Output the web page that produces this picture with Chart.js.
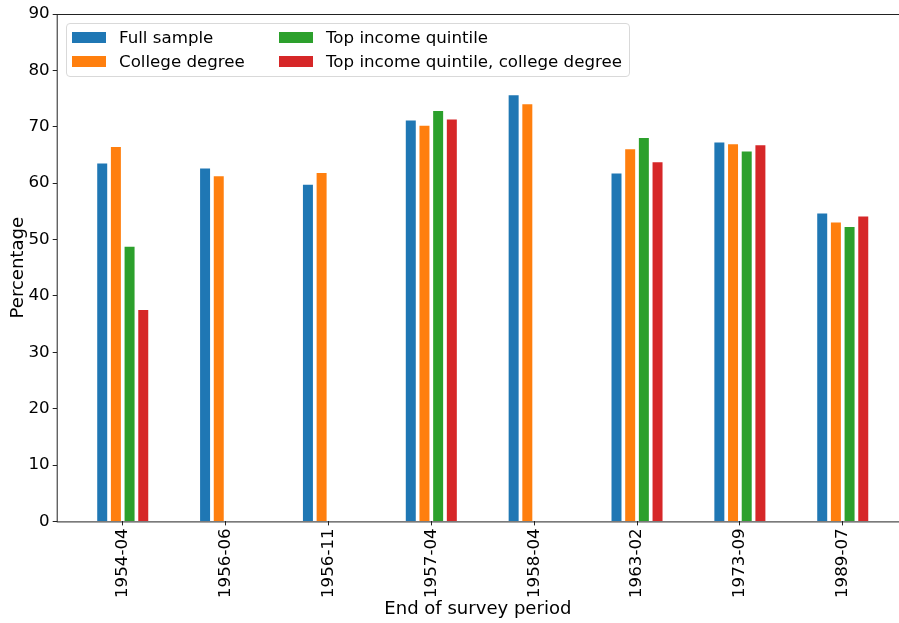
<!DOCTYPE html>
<html>
<head>
<meta charset="utf-8">
<script src="https://cdn.jsdelivr.net/npm/chart.js@4.4.1/dist/chart.umd.min.js"></script>
<style>
  body { margin: 0; background: #fff; }
  #wrap { position: relative; width: 899px; height: 623px; }
  #legend {
    position: absolute; left: 66px; top: 23px; width: 562px; height: 52px;
    border: 1px solid #d9d9d9; border-radius: 4px; background: rgba(255,255,255,0.8);
    font-family: "DejaVu Sans", sans-serif; font-size: 16.67px; color: #000;
  }
  .item { position: absolute; display: flex; align-items: center; height: 20px; white-space: nowrap; }
  .patch { width: 34px; height: 11px; margin-right: 13px; }
</style>
</head>
<body>
<div id="wrap">
  <canvas id="myChart" width="899" height="623"></canvas>
  <div id="legend"></div>
</div>
<script>
// データ
const categories = ["1954-04", "1956-06", "1956-11", "1957-04", "1958-04", "1963-02", "1973-09", "1989-07"];
const seriesNames = ["Full sample", "College degree", "Top income quintile", "Top income quintile, college degree"];
const fullSample = [63.5, 62.6, 59.7, 71.1, 75.6, 61.7, 67.2, 54.6];
const collegeDegree = [66.4, 61.2, 61.8, 70.2, 74.0, 66.0, 66.9, 53.0];
const topQuintile = [48.7, null, null, 72.8, null, 68.0, 65.6, 52.2];
const topQuintileCollege = [37.5, null, null, 71.3, null, 63.7, 66.7, 54.1];
const colors = ["#1f77b4", "#ff7f0e", "#2ca02c", "#d62728"];
const yTicks = [0, 10, 20, 30, 40, 50, 60, 70, 80, 90];

const allSeries = [fullSample, collegeDegree, topQuintile, topQuintileCollege];
const tickFont = { family: "DejaVu Sans", size: 16.67 };
const titleFont = { family: "DejaVu Sans", size: 18.06 };

// 枠線
const frame = {
  id: 'frame',
  afterDraw(chart) {
    const a = chart.chartArea, c = chart.ctx;
    c.save();
    c.strokeStyle = '#222';
    c.lineWidth = 1;
    c.strokeRect(a.left + 0.5, a.top + 0.5, a.right - a.left, a.bottom - a.top);
    c.restore();
  }
};

const ctx = document.getElementById('myChart').getContext('2d');
const chart = new Chart(ctx, {
  type: 'bar',
  data: {
    datasets: allSeries.map((s, k) => ({
      label: seriesNames[k],
      backgroundColor: colors[k],
      borderWidth: 0,
      categoryPercentage: 0.532,
      barPercentage: 0.73,
      data: s.map((v, i) => ({ x: i, y: v }))
    }))
  },
  options: {
    responsive: false,
    animation: false,
    devicePixelRatio: 1,
    layout: { padding: { top: 14, right: 0, left: 0, bottom: 0 } },
    plugins: { legend: { display: false }, tooltip: { enabled: false } },
    scales: {
      x: {
        type: 'linear',
        offset: false,
        min: -0.642,
        max: 7.547,
        afterBuildTicks: scale => { scale.ticks = categories.map((c, i) => ({ value: i })); },
        afterFit: scale => { scale.height = 101.6; },
        ticks: {
          autoSkip: false, minRotation: 90, maxRotation: 90, padding: 3,
          color: '#000', font: tickFont,
          callback: v => categories[v]
        },
        grid: { offset: false, drawOnChartArea: false, drawTicks: true, tickLength: 4, color: '#222' },
        border: { display: false },
        title: { display: true, text: 'End of survey period', color: '#000', font: titleFont, padding: { top: 0, bottom: 3 } }
      },
      y: {
        min: 0,
        max: 90,
        afterBuildTicks: scale => { scale.ticks = yTicks.map(v => ({ value: v })); },
        afterFit: scale => { scale.width = 56.7; },
        ticks: { padding: 3, color: '#000', font: tickFont },
        grid: { drawOnChartArea: false, drawTicks: true, tickLength: 4, color: '#222' },
        border: { display: false },
        title: { display: true, text: 'Percentage', color: '#000', font: titleFont, padding: { top: 7.5, bottom: 0 } }
      }
    }
  },
  plugins: [frame]
});

// 凡例 (2列)
const legend = document.getElementById('legend');
const colX = [5, 212];
const rowY = [3, 27];
seriesNames.forEach((name, k) => {
  const col = Math.floor(k / 2), row = k % 2;
  const item = document.createElement('div');
  item.className = 'item';
  item.style.left = colX[col] + 'px';
  item.style.top = rowY[row] + 'px';
  item.innerHTML = '<span class="patch" style="background:' + colors[k] + '"></span><span>' + name + '</span>';
  legend.appendChild(item);
});
</script>
</body>
</html>
